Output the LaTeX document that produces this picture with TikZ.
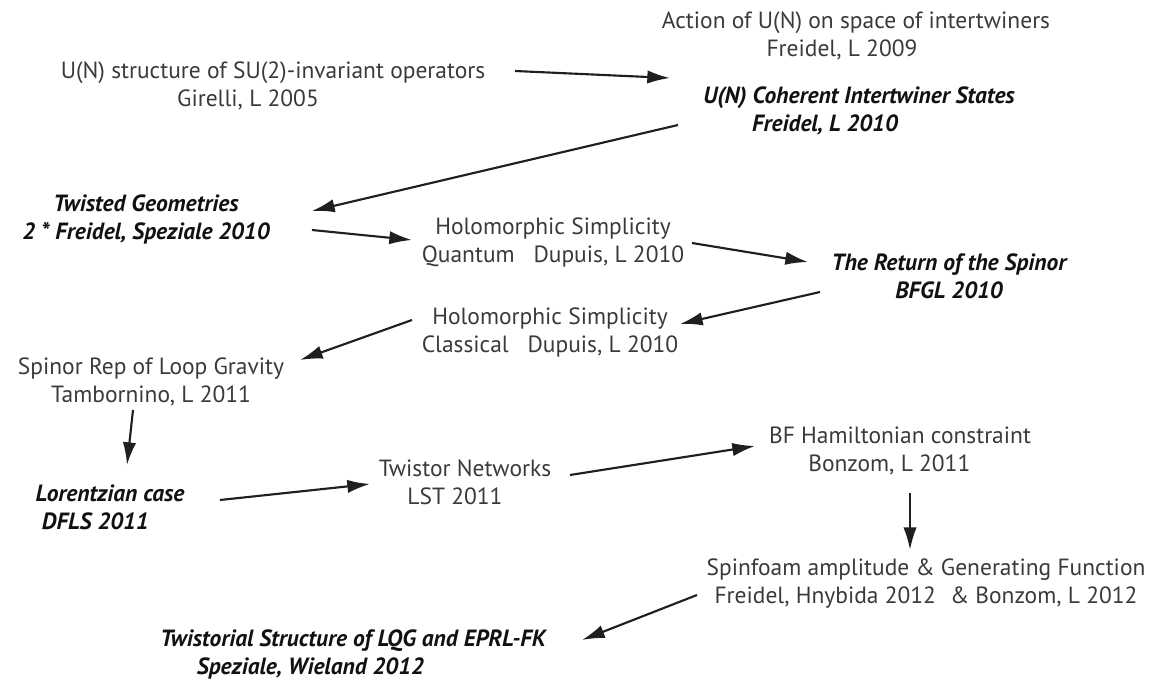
\documentclass[tikz,border=0pt]{standalone}
\usepackage{fontspec}
\setmainfont{PT Sans}
\usetikzlibrary{arrows.meta}
\definecolor{txt}{HTML}{3A3A3A}
\definecolor{btxt}{HTML}{111111}
\newcommand\lsh[1]{\rule{#1}{0pt}}
\begin{document}
\begin{tikzpicture}[x=0.75pt,y=-0.75pt,
  lbl/.style={font=\fontsize{17.6}{21}\selectfont, text=txt, align=center, inner sep=0pt},
  blbl/.style={lbl, font=\fontsize{17.6}{21}\selectfont\bfseries\itshape, text=btxt},
  arr/.style={-{Latex[length=17pt,width=10pt]}, line width=1.6pt, draw=black!88}]
\useasboundingbox (0,0) rectangle (1151,680);
\node[lbl]  (A) at (273,86)  {U(N) structure of SU(2)-invariant operators\\Girelli, L 2005\lsh{37.5pt}};
\node[lbl]  (B) at (856,36)  {Action of U(N) on space of intertwiners\\Freidel, L 2009\lsh{21pt}};
\node[blbl] (C) at (859,111) {U(N) Coherent Intertwiner States\\Freidel, L 2010\lsh{51pt}};
\node[blbl] (D) at (146,219) {Twisted Geometries\\2 * Freidel, Speziale 2010};
\node[lbl]  (E) at (553,242) {Holomorphic Simplicity\\Quantum\hspace{0.8em}Dupuis, L 2010};
\node[blbl] (F) at (949,276) {The Return of the Spinor\\BFGL 2010};
\node[lbl]  (G) at (550,332) {Holomorphic Simplicity\\Classical\hspace{0.8em}Dupuis, L 2010};
\node[lbl]  (H) at (151,382) {Spinor Rep of Loop Gravity\\Tambornino, L 2011};
\node[blbl] (I) at (110,507) {Lorentzian case\\DFLS 2011\lsh{22pt}};
\node[lbl]  (J) at (465,482) {Twistor Networks\\LST 2011\lsh{15pt}};
\node[lbl]  (K) at (900,451) {BF Hamiltonian constraint\\Bonzom, L 2011\lsh{16pt}};
\node[lbl]  (L) at (926,584) {Spinfoam amplitude \& Generating Function\\Freidel, Hnybida 2012\hspace{0.6em}\& Bonzom, L 2012};
\node[blbl] (M) at (353,654) {Twistorial Structure of LQG and EPRL-FK\\Speziale, Wieland 2012\lsh{64pt}};
\draw[arr] ([shift={(242,-15)}]A.center) -- ([shift={(-189,-33)}]C.center);
\draw[arr] ([shift={(-181,14)}]C.center) -- ([shift={(166,-8)}]D.center);
\draw[arr] ([shift={(166,11)}]D.center) -- ([shift={(-141,-2)}]E.center);
\draw[arr] ([shift={(139,1)}]E.center) -- ([shift={(-141,-14)}]F.center);
\draw[arr] ([shift={(-129,16)}]F.center) -- ([shift={(130,-8)}]G.center);
\draw[arr] ([shift={(-138,-12)}]G.center) -- ([shift={(149,-22)}]H.center);
\draw[arr] ([shift={(-18,28)}]H.center) -- ([shift={(17,-42)}]I.center);
\draw[arr] ([shift={(110,-7)}]I.center) -- ([shift={(-95,2)}]J.center);
\draw[arr] ([shift={(105,-7)}]J.center) -- ([shift={(-145,-5)}]K.center);
\draw[arr] ([shift={(10,42)}]K.center) -- ([shift={(-16,-34)}]L.center);
\draw[arr] ([shift={(-229,11)}]L.center) -- ([shift={(229,-14)}]M.center);
\end{tikzpicture}
\end{document}
